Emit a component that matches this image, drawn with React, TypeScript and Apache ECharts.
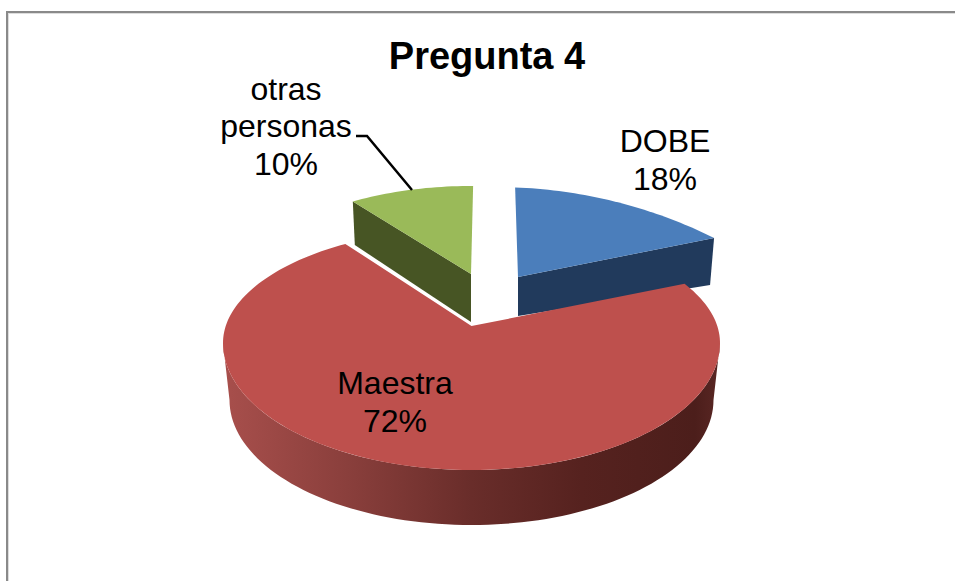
import React, { useEffect, useRef } from "react";
import * as echarts from "echarts";

const titleText = "Pregunta 4";
const categories = ["DOBE", "Maestra", "otras\npersonas"];
const shares = [18, 72, 10];
const drawOrder = [0, 2, 1];

const topColors = ["#4B7EBB", "#BE504D", "#9ABA59"];
const FONT = "'Liberation Sans', Arial, sans-serif";

type Geo = {
  apex: [number, number]; cx: number; cy: number; rx: number; ryU: number; ryL: number;
  k: number; phi: number; label: [number, number];
};
const geometry: Geo[] = [
  { apex: [518, 277], cx: 495, cy: 590, rx: 450, ryU: 403, ryL: 403, k: 0.409, phi: -0.75, label: [665, 160] },
  { apex: [471.5, 326], cx: 471.5, cy: 343, rx: 248.5, ryU: 115, ryL: 127, k: 0.449, phi: 1.4, label: [395, 402] },
  { apex: [471, 274], cx: 471, cy: 295, rx: 230, ryU: 109, ryL: 109, k: 0.436, phi: 0.6, label: [286, 126] },
];

const rad = (d: number) => (d * Math.PI) / 180;

function rimPoint(g: Geo, deg: number): [number, number] {
  const a = rad(deg + g.phi);
  const dx = Math.sin(a);
  const dy = -g.k * Math.cos(a);
  let lo = 0;
  let hi = 1200;
  for (let i = 0; i < 40; i++) {
    const t = (lo + hi) / 2;
    const x = g.apex[0] + dx * t;
    const y = g.apex[1] + dy * t;
    const ry = y < g.cy ? g.ryU : g.ryL;
    const inside = ((x - g.cx) / g.rx) ** 2 + ((y - g.cy) / ry) ** 2 < 1;
    if (inside) lo = t;
    else hi = t;
  }
  return [g.apex[0] + dx * lo, g.apex[1] + dy * lo];
}

function rimArc(g: Geo, from: number, to: number): [number, number][] {
  const pts: [number, number][] = [];
  const n = Math.max(8, Math.ceil((to - from) / 1.5));
  for (let i = 0; i <= n; i++) pts.push(rimPoint(g, from + ((to - from) * i) / n));
  return pts;
}

function ellipseArc(cx: number, cy: number, rx: number, ry: number, from: number, to: number) {
  const pts: [number, number][] = [];
  const n = 90;
  for (let i = 0; i <= n; i++) {
    const a = rad(from + ((to - from) * i) / n);
    pts.push([cx + rx * Math.cos(a), cy + ry * Math.sin(a)]);
  }
  return pts;
}

export default function App() {
  const ref = useRef<HTMLDivElement>(null);
  useEffect(() => {
    document.body.style.margin = "0";
    const chart = echarts.init(ref.current!, undefined, { renderer: "svg" });
    const total = shares.reduce((a, b) => a + b, 0);

    const renderItem = (_params: any, api: any) => {
      const idx = api.value(0) as number;
      const value = shares[idx];
      const before = shares.slice(0, idx).reduce((a, b) => a + b, 0);
      const start = (before / total) * 360;
      const end = ((before + value) / total) * 360;
      const g = geometry[idx];
      const children: any[] = [];
      const arc = rimArc(g, start, end);

      if (idx === 0) {
        const tip = arc[arc.length - 1];
        children.push({
          type: "polygon",
          shape: { points: [g.apex, tip, [tip[0] - 4, tip[1] + 47], [g.apex[0], g.apex[1] + 39]] },
          style: { fill: "#213A5C" },
        });
      } else if (idx === 2) {
        const tip = arc[0];
        children.push({
          type: "polygon",
          shape: { points: [g.apex, tip, [tip[0] + 2, tip[1] + 43.5], [g.apex[0], g.apex[1] + 48]] },
          style: { fill: "#475524" },
        });
      } else {
        const upper = ellipseArc(g.cx, g.cy, g.rx, g.ryL, 0, 180);
        const lower = ellipseArc(g.cx, 400, 242, 125, 180, 0);
        children.push({
          type: "polygon",
          shape: { points: [...upper, ...lower] },
          style: {
            fill: new echarts.graphic.LinearGradient(0, 0, 1, 0, [
              { offset: 0, color: "#A84F4C" },
              { offset: 0.25, color: "#8A3F3C" },
              { offset: 0.5, color: "#692D2A" },
              { offset: 0.72, color: "#56221F" },
              { offset: 0.95, color: "#4C1E1B" },
              { offset: 1, color: "#5A2724" },
            ]),
          },
        });
      }

      children.push({
        type: "polygon",
        shape: { points: [g.apex, ...arc] },
        style: { fill: topColors[idx] },
      });

      if (idx === 2) {
        children.push({
          type: "polyline",
          shape: { points: [[356, 136], [367, 136], [412, 190]] },
          style: { fill: "none", stroke: "#000", lineWidth: 2.5 },
        });
      }

      children.push({
        type: "text",
        x: g.label[0],
        y: g.label[1],
        z2: 10,
        style: {
          text: `${categories[idx]}\n${value}%`,
          fill: "#000",
          font: `32px ${FONT}`,
          lineHeight: 37.5,
          align: "center",
          verticalAlign: "middle",
        },
      });
      return { type: "group", children };
    };

    chart.setOption({
      animation: false,
      backgroundColor: "#fff",
      title: {
        text: titleText,
        left: 482,
        top: 32,
        textAlign: "center",
        textStyle: { fontFamily: FONT, fontSize: 38, fontWeight: "bold", color: "#000" },
      },
      graphic: [
        { type: "rect", shape: { x: 6, y: 11, width: 949, height: 2 }, style: { fill: "#8A8A8A" } },
        { type: "rect", shape: { x: 6, y: 11, width: 2, height: 570 }, style: { fill: "#8A8A8A" } },
        { type: "rect", shape: { x: 8, y: 13, width: 947, height: 1 }, style: { fill: "#DDDDDD" } },
        { type: "rect", shape: { x: 8, y: 13, width: 1, height: 568 }, style: { fill: "#DDDDDD" } },
      ],
      series: [
        {
          type: "custom",
          coordinateSystem: "none",
          renderItem,
          silent: true,
          data: drawOrder.map((i) => [i, shares[i]]),
        },
      ],
    });
    return () => chart.dispose();
  }, []);
  return <div ref={ref} style={{ position: "absolute", left: 0, top: 0, width: 955, height: 581 }} />;
}
